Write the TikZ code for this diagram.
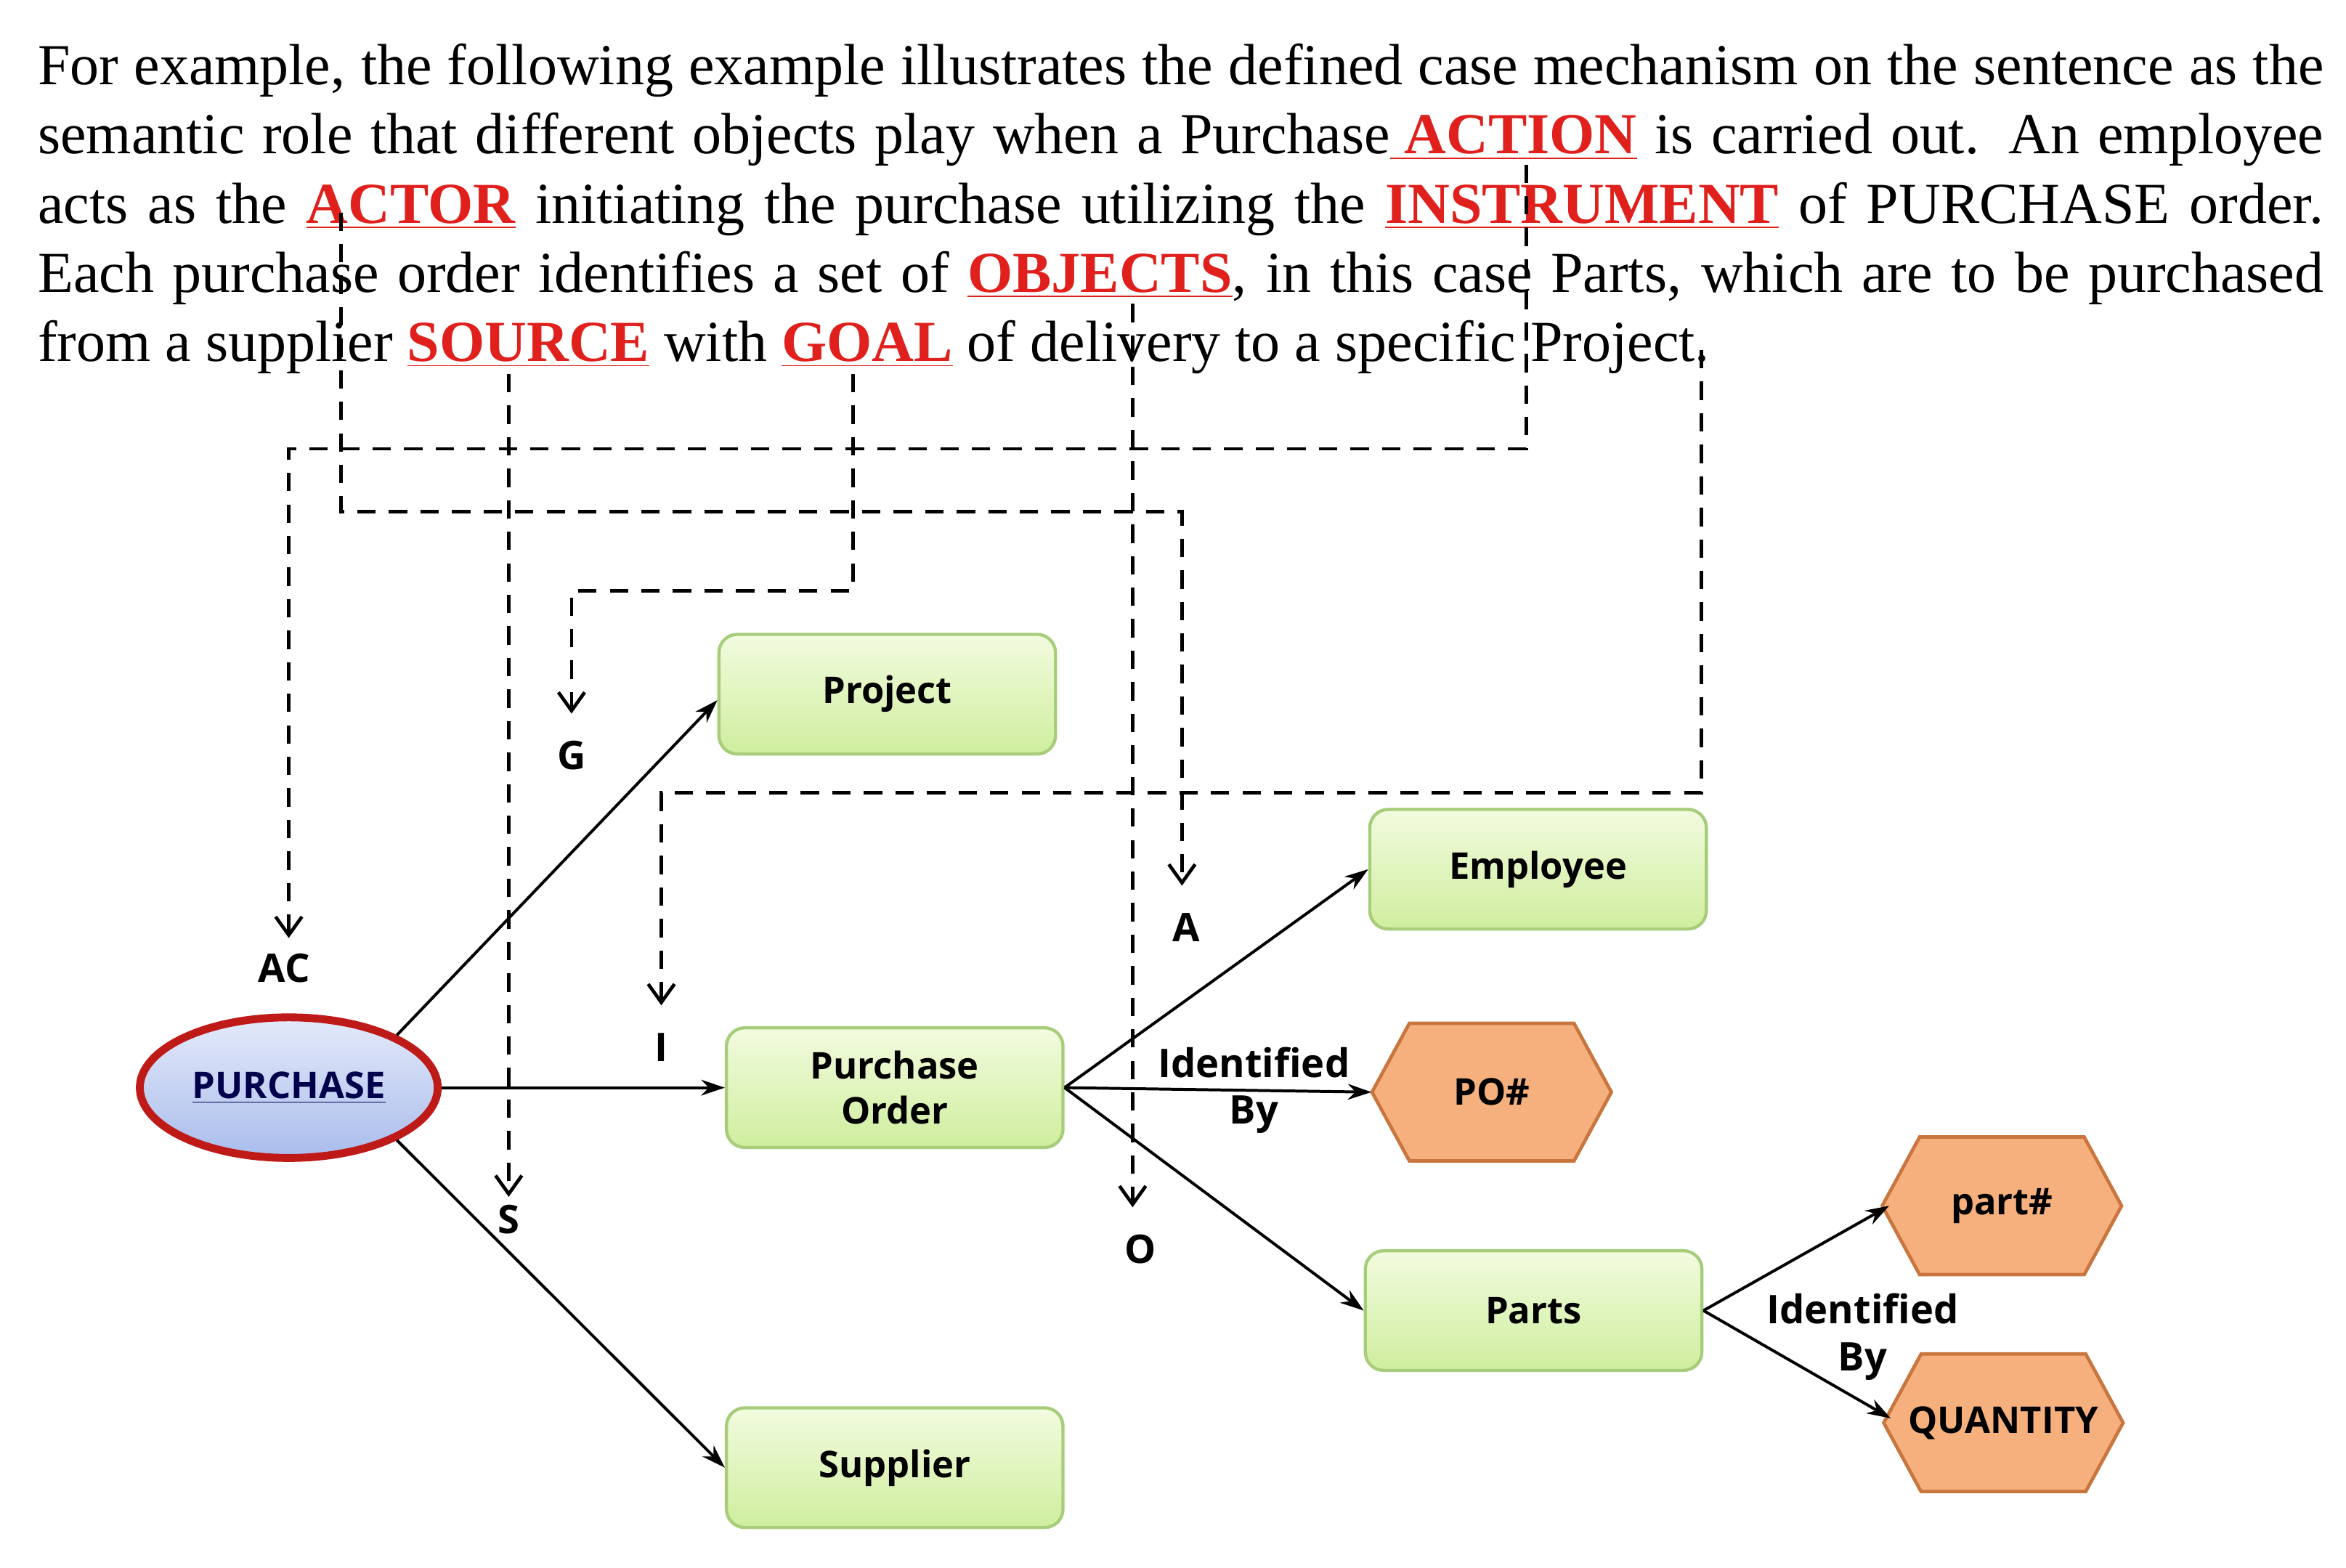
\documentclass[tikz,border=0pt]{standalone}
\usepackage{fontspec}
\setmainfont{Liberation Serif}
\newfontfamily\boxfont{Open Sans}
\usetikzlibrary{arrows.meta,calc,shapes.geometric}
\definecolor{kred}{HTML}{E0201C}
\definecolor{bxa}{HTML}{F2FBDF}
\definecolor{bxb}{HTML}{CFEE9E}
\definecolor{bxd}{HTML}{A7CC7A}
\definecolor{hexf}{HTML}{F6B07E}
\definecolor{hexd}{HTML}{C9763E}
\definecolor{ela}{HTML}{E4EAFA}
\definecolor{elb}{HTML}{A9BCEB}
\newcommand{\kw}[1]{\textcolor{kred}{\underline{\textbf{#1}}}}
\tikzset{
  gbox/.style={rectangle,rounded corners=7pt,draw=bxd,line width=1.2pt,top color=bxa,bottom color=bxb,minimum width=4.5cm,minimum height=1.6cm,font=\boxfont\bfseries\fontsize{14}{16}\selectfont,align=center},
  hexn/.style={minimum width=3.2cm,minimum height=1.84cm,font=\boxfont\bfseries\fontsize{14}{16}\selectfont},
  hexl/.style={draw=hexd,fill=hexf,line width=1.3pt},
  sarr/.style={-{Stealth[length=9pt,width=6pt]},line width=1.1pt},
  darr/.style={-{Straight Barb[length=7pt,width=10pt]},line width=1.3pt,dash pattern=on 7pt off 5pt},
  lab/.style={font=\boxfont\bfseries\fontsize{15}{17}\selectfont,inner sep=1pt},
}
\newcommand{\hexdraw}[1]{\draw[hexl] ($(#1.center)+(-80,0)$) -- ++(25,-46) -- ++(110,0) -- ++(25,46) -- ++(-25,46) -- ++(-110,0) -- cycle;}
\begin{document}
\begin{tikzpicture}[x=0.02cm,y=-0.02cm]
\useasboundingbox (0,0) rectangle (1568,1048);
\fill[white] (0,0) rectangle (1568,1048);
\node[anchor=north west,inner sep=0pt,text width=30.56cm,align=justify,font=\fontsize{22.1}{26.3}\selectfont] (para) at (25,29) {For example, the following example illustrates the defined case mechanism on the sentence as the\linebreak
semantic role that different objects play when a Purchase\kw{\ ACTION} is carried out. An employee\linebreak
acts as the \kw{ACTOR} initiating the purchase utilizing the \kw{INSTRUMENT} of PURCHASE order.\linebreak
Each purchase order identifies a set of \kw{OBJECTS}, in this case Parts, which are to be purchased\linebreak
from a supplier \kw{SOURCE} with \kw{GOAL} of delivery to a specific Project.};
% nodes
\node[gbox] (proj) at (593,464) {Project};
\node[gbox] (emp) at (1028,581) {Employee};
\node[gbox] (po) at (598,727) {Purchase\\[1pt]Order};
\node[gbox] (parts) at (1025,876) {Parts};
\node[gbox] (sup) at (598,981) {Supplier};
\node[ellipse,draw=kred!85!black,line width=3pt,top color=ela,bottom color=elb,minimum width=3.8cm,minimum height=1.88cm,font=\boxfont\bfseries\fontsize{14}{16}\selectfont,text=blue!30!black] (pur) at (193,727) {\underline{PURCHASE}};
\node[hexn] (pon) at (997,730) {};
\hexdraw{pon}
\node[hexn] at (997,730) {PO\#};
\node[hexn] (pn) at (1338,806) {};
\hexdraw{pn}
\node[hexn] at (1338,806) {part\#};
\node[hexn] (qty) at (1339,951) {};
\hexdraw{qty}
\node[hexn] at (1339,951) {QUANTITY};
% solid arrows
\draw[sarr] (pur.north east) -- (proj.west|-0,468) ;
\draw[sarr] (pur.east) -- (po.west);
\draw[sarr] (pur.south east) -- (sup.west);
\draw[sarr] (po.east) -- (emp.west);
\draw[sarr] (po.east) -- (pon.west);
\draw[sarr] (po.east) -- (parts.west);
\draw[sarr] (parts.east) -- ($(pn.west)+(5,0)$);
\draw[sarr] (parts.east) -- ($(qty.west)+(5,-3)$);
\node[lab] (ib1) at (838,710) {Identified};
\node[lab] (ib2) at (838,745) {By};
\node[lab] (ib3) at (1245,875) {Identified};
\node[lab] (ib4) at (1245,910) {By};
% dashed
\coordinate (ac0) at (1020,110);
\coordinate (a0) at (228,142);
\coordinate (g0) at (570,250);
\coordinate (s0) at (340,250);
\coordinate (o0) at (757,203);
\coordinate (i0) at (1137,234);
\node[lab] (acl) at (190,647) {AC};
\node[lab] (al) at (793,620) {A};
\node[lab] (gl) at (382,505) {G};
\node[lab] (sl) at (340,815) {S};
\node[lab] (ol) at (762,835) {O};
\node[lab] (il) at (442,700) {I};
\draw[darr] (ac0) -- (1020,300) -- (193,300) -- (193,627);
\draw[darr] (a0) -- (228,342) -- (790,342) -- (790,592);
\draw[darr] (g0) -- (570,395) -- (382,395) -- (382,477);
\draw[darr] (s0) -- (340,800);
\draw[darr] (o0) -- (757,807);
\draw[darr] (i0) -- (1137,530) -- (442,530) -- (442,672);
\end{tikzpicture}
\end{document}
